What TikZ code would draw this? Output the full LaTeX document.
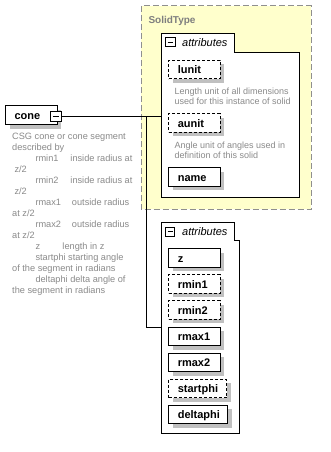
\documentclass[tikz,border=0pt]{standalone}
\usepackage{fontspec}
\setmainfont{Liberation Sans}
\usetikzlibrary{shadows}
\definecolor{docgray}{HTML}{8A8A8A}
\definecolor{typegray}{HTML}{7F7F7F}
\definecolor{typeborder}{HTML}{8F8F8F}
\definecolor{typefill}{HTML}{FFFFCC}
\definecolor{shadowgray}{HTML}{C0C0C0}
% one indented row of the documentation text: label, then text at a tab stop
\newcommand\docrow[3]{\hspace*{23.3pt}\makebox[#1][l]{#2}#3}
\begin{document}
\begin{tikzpicture}[x=1pt,y=-1pt,line width=1pt,
  attrbox/.style={draw=black,fill=white,
    general shadow={fill=shadowgray,shadow xshift=4pt,shadow yshift=-4pt},
    font=\fontsize{11}{13}\selectfont\bfseries,anchor=north west,
    inner xsep=9pt,inner ysep=0pt,minimum height=18.6pt,
    text height=9.6pt,text depth=0.8pt,align=left,text width=33.4pt},
  optional/.style={dash pattern=on 3pt off 2pt},
  minusbox/.style={draw=black,fill=white,inner sep=0pt,
    path picture={\draw[line width=1pt]
      ([xshift=2pt]path picture bounding box.west) --
      ([xshift=-2pt]path picture bounding box.east);}},
  tabtext/.style={font=\fontsize{11}{13}\selectfont\itshape,anchor=base west,inner sep=0pt},
  doc/.style={text=docgray,anchor=north west,inner sep=0pt,align=left,
    font=\fontsize{9}{10}\selectfont},
  container/.style={draw=black,fill=white}]
\useasboundingbox (0,0) rectangle (330,452);
\fill[white] (0,0) rectangle (330,452);

% SolidType group
\draw[draw=typeborder,fill=typefill,dash pattern=on 6pt off 3pt] (141,6) rectangle (311,209.3);
\node[font=\fontsize{10}{12}\selectfont\bfseries,text=typegray,anchor=base west,inner sep=0pt]
  (solidtitle) at (148,23.3) {SolidType};

% first attributes container
\draw[container] (161.7,33.7) -- (234.7,33.7) -- (234.7,52.3) -- (299.7,52.3)
  -- (299.7,197.3) -- (161.7,197.3) -- cycle;
\node[minusbox,minimum size=9.3pt] (minusA) at (170.35,42.35) {};
\node[tabtext] (tabA) at (181.7,47) {attributes};

\node[attrbox,optional] (lunit) at (168.3,59.7) {lunit};
\node[doc] (lunitdoc) at (174,87.4) {Length unit of all dimensions\\used for this instance of solid};
\node[attrbox,optional] (aunit) at (168.3,113.3) {aunit};
\node[doc] (aunitdoc) at (174,141.7) {Angle unit of angles used in\\definition of this solid};
\node[attrbox] (name) at (168.3,167.3) {name};

% cone element
\node[attrbox,minimum width=51.7pt,minimum height=19pt,text width=33.7pt] (cone) at (5,105) {cone};
\node[minusbox,minimum size=10.3pt] (conebtn) at (55.85,116.15) {};
\node[doc,font=\fontsize{9.2}{11}\selectfont] (conedoc) at (11.7,132.9) {CSG cone or cone segment\\
  described by\\
  \docrow{35pt}{rmin1}{inside radius at}\\
  \hspace*{2.3pt}z/2\\
  \docrow{35pt}{rmin2}{inside radius at}\\
  \hspace*{2.3pt}z/2\\
  \docrow{36.5pt}{rmax1}{outside radius}\\
  at z/2\\
  \docrow{36.5pt}{rmax2}{outside radius}\\
  at z/2\\
  \docrow{27pt}{z}{length in z}\\
  \hspace*{23.3pt}startphi starting angle\\
  of the segment in radians\\
  \hspace*{23.3pt}deltaphi delta angle of\\
  the segment in radians};

% second attributes container
\draw[container] (161.7,222.7) -- (234.7,222.7) -- (234.7,240.7) -- (239,240.7)
  -- (239,433.3) -- (161.7,433.3) -- cycle;
\node[minusbox,minimum size=9pt] (minusB) at (170.2,231.8) {};
\node[tabtext] (tabB) at (181.7,235.7) {attributes};

\node[attrbox] (z) at (168.3,248.3) {z};
\node[attrbox,optional] (rmin1) at (168.3,274.3) {rmin1};
\node[attrbox,optional] (rmin2) at (168.3,300.3) {rmin2};
\node[attrbox] (rmax1) at (168.3,326.7) {rmax1};
\node[attrbox] (rmax2) at (168.3,352.7) {rmax2};
\node[attrbox,optional,text width=40pt] (startphi) at (168.3,378.7) {startphi};
\node[attrbox,text width=41pt] (deltaphi) at (168.3,404.7) {deltaphi};

% connectors from the cone element to both attribute groups
\coordinate (inA) at (161.7,116.15);
\coordinate (fork) at (146.7,116.15);
\coordinate (inB) at (161.7,327.8);
\draw (conebtn.east) -- (inA);
\draw (fork) |- (inB);
\end{tikzpicture}
\end{document}
